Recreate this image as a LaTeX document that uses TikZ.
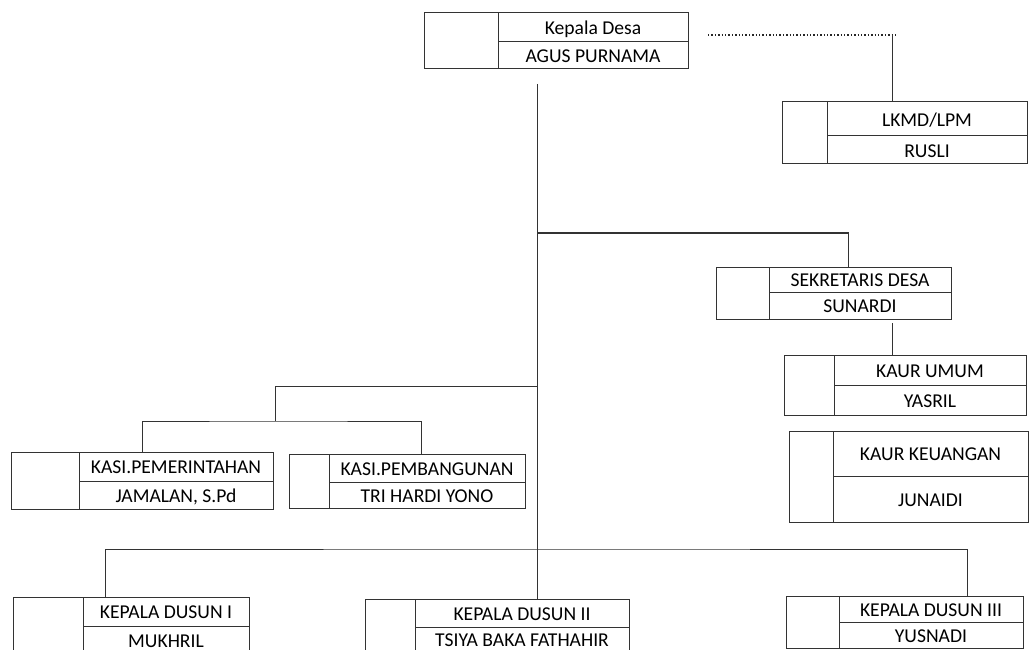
\documentclass[tikz,border=0pt]{standalone}
\usepackage{fontspec}
\setmainfont{Carlito}
\newcommand\orgbox[9]{%
  \node[boxframe, minimum width={(#4-#2)*1pt}, minimum height={(#7-#5)*1pt}, anchor=north west] (#1) at (#2,#5) {};
  \draw[conn] (#3,#5) -- (#3,#7) (#3,#6) -- (#4,#6);
  \node[lbl] (#1-a) at ({(#3+#4)/2},{(#5+#6)/2+0.8}) {#8};
  \node[lbl] (#1-b) at ({(#3+#4)/2},{(#6+#7)/2+0.8}) {#9};
}
\begin{document}
\begin{tikzpicture}[x=1pt,y=-1pt,
  conn/.style={draw=black!80, line width=1pt},
  dotline/.style={draw=black!85, line width=1.2pt, dash pattern=on 1.4pt off 2pt},
  boxframe/.style={draw=black!80, line width=1pt, fill=none, inner sep=0pt, outer sep=0pt},
  lbl/.style={font=\fontsize{19.6}{22}\selectfont, text=black, inner sep=0pt, text height=12.6pt, text depth=0pt}]
\useasboundingbox (0,0) rectangle (1029,650);
\clip (0,0) rectangle (1029,650);
\orgbox{kd}{424}{498}{688}{13}{42}{69}{Kepala Desa}{AGUS PURNAMA}
\orgbox{lk}{782}{827}{1027}{102}{136}{164}{LKMD/LPM}{RUSLI}
\orgbox{sd}{716}{769}{951}{267}{292}{319}{SEKRETARIS DESA}{SUNARDI}
\orgbox{ku}{784}{834}{1026}{355}{385}{415}{KAUR UMUM}{YASRIL}
\orgbox{kk}{789}{833}{1028}{431}{476}{522}{KAUR KEUANGAN}{JUNAIDI}
\orgbox{kp}{11}{79}{273}{452}{481}{509}{KASI.PEMERINTAHAN}{JAMALAN, S.Pd}
\orgbox{kb}{289}{329}{525}{454}{482}{508}{KASI.PEMBANGUNAN}{TRI HARDI YONO}
\orgbox{da}{13}{83}{249}{597}{626}{654}{KEPALA DUSUN I}{MUKHRIL}
\orgbox{db}{365}{415}{629}{599}{627}{652}{KEPALA DUSUN II}{TSIYA BAKA FATHAHIR}
\orgbox{dc}{786}{839}{1023}{596}{622}{648}{KEPALA DUSUN III}{YUSNADI}
% coordinates
\coordinate (top) at (537,84);
\coordinate (dotA) at (708,35);
\coordinate (dotB) at (898,35);
\coordinate (lkc) at (892,35);
\coordinate (sdj) at (537,233);
\coordinate (kasj) at (537,386);
\coordinate (kasm) at (275,386);
\coordinate (kasb) at (275,421);
\coordinate (dusj) at (537,549);
% connectors
\draw[conn] (top) -- (top |- db.north);
\draw[dotline] (dotA) -- (dotB);
\draw[conn] (lkc) -- (lkc |- lk.north);
\draw[conn] (sdj) -| (sd.north -| 848,0);
\draw[conn] (892,323) coordinate (sdb) -- (sdb |- ku.north);
\draw[conn] (kasj) -- (kasm) -- (kasb);
\draw[conn] (kp.north -| 142,0) |- (kasb) -| (kb.north -| 421,0);
\draw[conn] (da.north -| 105,0) |- (dusj) -| (dc.north -| 967,0);
\end{tikzpicture}
\end{document}
